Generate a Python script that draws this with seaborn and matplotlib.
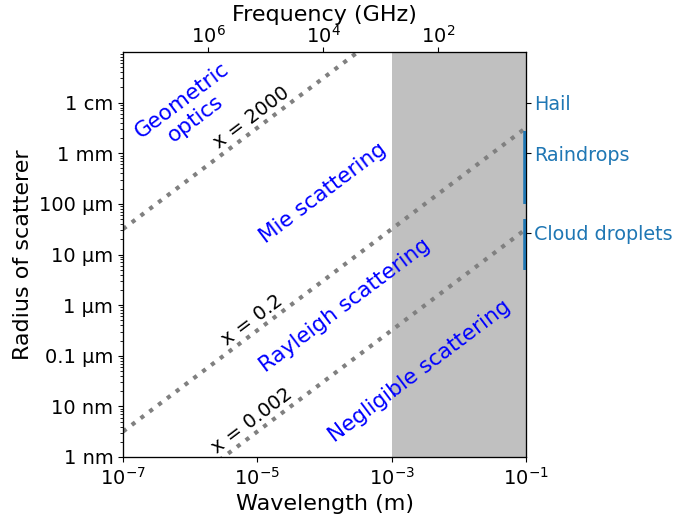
import numpy as np
import pandas as pd
import matplotlib
matplotlib.use("Agg")
import matplotlib.pyplot as plt
import matplotlib.transforms as mtransforms
import seaborn as sns

# ---- data ----
wavelength_limits = [1e-7, 1e-1]          # m
radius_limits = [1e-9, 1e-1]              # m
size_parameters = [2000, 0.2, 0.002]
size_labels = ["x = 2000", "x = 0.2", "x = 0.002"]
size_label_pos = [(10**-5.09, 10**-2.29), (10**-5.08, 10**-6.29), (10**-5.08, 10**-8.28)]

region_labels = ["Geometric\noptics", "Mie scattering", "Rayleigh scattering", "Negligible scattering"]
region_pos = [(10**-6.02, 10**-2.14), (10**-4.02, 10**-3.79), (10**-3.69, 10**-6.0), (10**-2.58, 10**-7.30)]

shade_range = [1e-3, 1e-1]

radius_ticks = [1e-9, 1e-8, 1e-7, 1e-6, 1e-5, 1e-4, 1e-3, 1e-2]
radius_ticklabels = ["1 nm", "10 nm", "0.1 µm", "1 µm", "10 µm", "100 µm", "1 mm", "1 cm"]

wl_ticks = [1e-7, 1e-5, 1e-3, 1e-1]
wl_ticklabels = [r"$10^{-7}$", r"$10^{-5}$", r"$10^{-3}$", r"$10^{-1}$"]

freq_limits = [3e7, 3]                    # GHz
freq_ticks = [1e6, 1e4, 1e2]
freq_ticklabels = [r"$10^{6}$", r"$10^{4}$", r"$10^{2}$"]

hydro_names = ["Hail", "Raindrops", "Cloud droplets"]
hydro_ticks = [1e-2, 1e-3, 2.7e-5]
hydro_ranges = [None, (1e-4, 2.8e-3), (5e-6, 5e-5)]

# ---- build line data ----
rows = []
for xp in size_parameters:
    for wl in wavelength_limits:
        rows.append({"wavelength": wl, "radius": xp * wl / (2 * np.pi), "x": str(xp)})
df = pd.DataFrame(rows)

plt.rcParams["font.size"] = 14
plt.rcParams["font.family"] = ["DejaVu Sans"]

fig = plt.figure(figsize=(6.75, 5.19), dpi=100)
ax = fig.add_axes([123/675, 1 - 457/519, 403/675, 405/519])

ax.axvspan(shade_range[0], shade_range[1], color="silver", lw=0, zorder=0)

sns.lineplot(data=df, x="wavelength", y="radius", units="x", estimator=None,
             color="gray", lw=3, ls=":", ax=ax, legend=False)

ax.set_xscale("log")
ax.set_yscale("log")
ax.set_xlim(*wavelength_limits)
ax.set_ylim(*radius_limits)

ax.set_xticks(wl_ticks)
ax.set_xticklabels(wl_ticklabels)
ax.xaxis.set_minor_locator(matplotlib.ticker.NullLocator())
ax.set_yticks(radius_ticks)
ax.set_yticklabels(radius_ticklabels)
ax.yaxis.set_minor_locator(matplotlib.ticker.LogLocator(base=10, subs=np.arange(2, 10), numticks=20))
ax.yaxis.set_minor_formatter(matplotlib.ticker.NullFormatter())

ax.set_xlabel("Wavelength (m)", fontsize=16)
ax.set_ylabel("Radius of scatterer", fontsize=16)

rot = 37
for lab, (px, py) in zip(size_labels, size_label_pos):
    ax.text(px, py, lab, rotation=rot, ha="center", va="center", color="black",
            fontsize=14, rotation_mode="anchor")
for lab, (px, py) in zip(region_labels, region_pos):
    ax.text(px, py, lab, rotation=rot, ha="center", va="center", color="blue",
            fontsize=15.5, rotation_mode="anchor", multialignment="center")

# top frequency axis
axt = ax.twiny()
axt.set_xscale("log")
axt.set_xlim(*freq_limits)
axt.set_xticks(freq_ticks)
axt.set_xticklabels(freq_ticklabels)
axt.xaxis.set_minor_locator(matplotlib.ticker.NullLocator())
axt.tick_params(axis="x", pad=0.5)
axt.set_xlabel("Frequency (GHz)", fontsize=16, labelpad=2.5)

# right hydrometeor axis
axr = ax.twinx()
axr.set_yscale("log")
axr.set_ylim(*radius_limits)
axr.set_yticks(hydro_ticks)
axr.set_yticklabels(hydro_names)
axr.yaxis.set_minor_locator(matplotlib.ticker.NullLocator())
axr.tick_params(axis="y", pad=2.5, labelsize=13.8)
for t in axr.get_yticklabels():
    t.set_color("#1f77b4")
trans = mtransforms.blended_transform_factory(axr.transAxes, axr.transData)
for rng in hydro_ranges:
    if rng is None:
        continue
    axr.plot([1, 1], list(rng), transform=trans, color="#1f77b4", lw=4,
             solid_capstyle="butt", clip_on=True)

fig.savefig("out.png", dpi=100)
